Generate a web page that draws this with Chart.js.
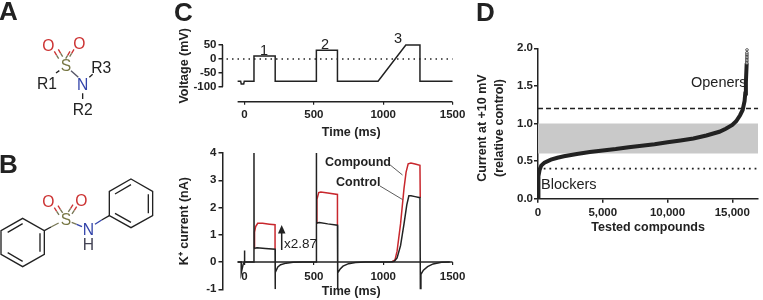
<!DOCTYPE html>
<html>
<head>
<meta charset="utf-8">
<title>Sulfonamide screen</title>
<script src="https://cdn.jsdelivr.net/npm/chart.js@4"></script>
<style>
  body { margin: 0; background: #fff; }
  #page { position: relative; width: 763px; height: 300px; overflow: hidden; }
  canvas, svg { position: absolute; }
  svg { left: 0; top: 0; pointer-events: none; font-family: "Liberation Sans", Arial, sans-serif; }
  .bond { stroke-width: 4; fill: none; }
  .chem { font-size: 47px; text-anchor: middle; dominant-baseline: central; }
  .letter { font-size: 26px; font-weight: bold; fill: #222; }
  .note { font-size: 14.5px; fill: #222; }
  .bold { font-size: 12.5px; font-weight: bold; fill: #222; }
</style>
</head>
<body>
<div id="page">
  <canvas id="voltageChart" width="303" height="120" style="left:177px;top:20px"></canvas>
  <canvas id="currentChart" width="303" height="160" style="left:177px;top:140px"></canvas>
  <canvas id="screenChart" width="263" height="205" style="left:500px;top:30px"></canvas>

  <svg width="763" height="300">
    <text class="letter" x="-1" y="20">A</text>
    <text class="letter" x="-1" y="173">B</text>
    <text class="letter" x="174" y="21">C</text>
    <text class="letter" x="476" y="21">D</text>

    <g transform="scale(0.3333)">
      <!-- structure A -->
      <path class="bond" stroke="#c33" d="M163 154l7 12M175 148l7 12M222 148l-7 12M210 154l-7 12"/>
      <path class="bond" stroke="#775" d="M170 166l6 10M182 160l6 10M215 160l-6 10M203 166l-6 10"/>
      <path class="bond" stroke="#222" d="M168 219l10-7M268 232l10-9M248 280v17"/>
      <path class="bond" stroke="#556" d="M213 212l22 20"/>
      <text class="chem" x="145" y="138" fill="#c33">O</text>
      <text class="chem" x="238" y="131" fill="#c33">O</text>
      <text class="chem" x="198" y="197" fill="#774">S</text>
      <text class="chem" x="248" y="253" fill="#34a">N</text>
      <text class="chem" x="141" y="250" fill="#222">R1</text>
      <text class="chem" x="304" y="202" fill="#222">R3</text>
      <text class="chem" x="248" y="330" fill="#222">R2</text>
      <!-- structure B -->
      <path class="bond" stroke="#222" d="M68 655L133 692V763L68 800L3 763V692ZM23 697L68 671M120 700V755M23 758L68 784"/>
      <path class="bond" stroke="#222" d="M393 537L458 574V647L393 683L328 647V574ZM345 582L393 554M445 583V640M345 640L393 667"/>
      <path class="bond" stroke="#222" d="M133 692L153 681"/>
      <path class="bond" stroke="#775" d="M153 681L176 669M215 667L230 673"/>
      <path class="bond" stroke="#34a" d="M230 673L246 680M285 673L305 660"/>
      <path class="bond" stroke="#222" d="M305 660L328 647"/>
      <path class="bond" stroke="#c33" d="M163 623l7 11M174 617l7 11M230 620l-7 11M219 614l-7 11"/>
      <path class="bond" stroke="#775" d="M170 634l7 11M181 628l7 11M223 631l-7 11M212 625l-7 11"/>
      <text class="chem" x="145" y="606" fill="#c33">O</text>
      <text class="chem" x="244" y="601" fill="#c33">O</text>
      <text class="chem" x="198" y="658" fill="#774">S</text>
      <text class="chem" x="265" y="688" fill="#34a">N</text>
      <text class="chem" x="265" y="735" fill="#445">H</text>
    </g>

    <!-- panel C labels -->
    <text class="note" x="264" y="55" text-anchor="middle">1</text>
    <text class="note" x="325" y="49" text-anchor="middle">2</text>
    <text class="note" x="398" y="43" text-anchor="middle">3</text>
    <text class="bold" x="325" y="166">Compound</text>
    <text class="bold" x="336" y="186">Control</text>
    <path d="M389 164L402.5 175M380 186L402.5 199.5" stroke="#333" stroke-width="0.8" fill="none"/>
    <path d="M281.7 250V232" stroke="#222" stroke-width="1.5"/>
    <path d="M281.7 225L285.5 233.5H278Z" fill="#222"/>
    <text x="284" y="248" font-size="13.5" fill="#222">x2.87</text>

    <!-- panel D labels -->
    <text class="note" x="691" y="87">Openers</text>
    <text class="note" x="541" y="189">Blockers</text>
    <text class="bold" transform="translate(486,128) rotate(-90)" text-anchor="middle">Current at +10 mV</text>
    <text class="bold" transform="translate(503,128) rotate(-90)" text-anchor="middle">(relative control)</text>
  </svg>
</div>

<script>
var timeTicks = [0, 500, 1000, 1500];

// voltage protocol
var voltageTicks = [50, 0, -50, -100];
var voltageTimes = [-50, -28, -24, -6, -2, 68, 68, 221, 221, 518, 518, 670, 670, 963, 1163, 1265, 1265, 1500];
var voltageValues = [-80, -80, -90, -90, -80, -80, 10, 10, -80, -80, 31, 31, -80, -80, 50, 50, -80, -80];
var zeroLineTimes = [-130, 1500];
var zeroLineValues = [0, 0];

// current traces
var currentTicks = [4, 3, 2, 1, 0, -1];
var controlTimes = [-50, -24, -24, -10, -2, 0, 0, 1, 68, 68, 69, 90, 150, 220, 221, 222, 240, 260, 300, 350, 420, 518, 518, 519, 540, 600, 670, 671, 673, 690, 710, 750, 800, 870, 1050, 1080, 1100, 1125, 1150, 1170, 1185, 1200, 1230, 1265, 1268, 1272, 1290, 1320, 1360, 1420, 1480];
var controlValues = [0, 0, -0.4, -0.08, 0, 0, 0.42, 0, 0, 4.2, 0.5, 0.52, 0.5, 0.47, -1, -0.38, -0.18, -0.1, -0.04, -0.01, 0, 0, 4.2, 1.43, 1.45, 1.4, 1.35, -1, -0.4, -0.25, -0.15, -0.06, -0.02, 0, 0, 0.03, 0.15, 0.6, 1.4, 2.1, 2.43, 2.43, 2.4, 2.36, -1, -0.45, -0.3, -0.17, -0.07, -0.01, 0];
var compoundTimes = [69, 72, 80, 95, 130, 180, 220, 220, 220.5, 519, 522, 535, 550, 600, 670, 670, 670.5, 1060, 1085, 1100, 1125, 1150, 1165, 1180, 1200, 1230, 1265, 1267];
var compoundValues = [0.5, 1.1, 1.3, 1.42, 1.42, 1.39, 1.37, 0.47, null, 1.43, 2.3, 2.55, 2.57, 2.53, 2.48, 1.35, null, 0, 0.08, 0.4, 1.4, 2.7, 3.3, 3.6, 3.63, 3.6, 3.55, 2.36];

// screen, compounds ranked by current
var screenTicksX = [0, 5000, 10000, 15000];
var screenTicksY = [0, 0.5, 1, 1.5, 2];
var rankValues = [0, 10, 30, 60, 120, 250, 500, 1000, 1500, 2000, 3000, 4000, 5000, 6000, 7000, 8000, 9000, 10000, 11000, 12000, 13000, 14000, 14500, 15000, 15300, 15600, 15800, 15950, 16000, 16050, 16110];
var relativeCurrent = [0, 0.1, 0.2, 0.3, 0.38, 0.44, 0.48, 0.52, 0.545, 0.565, 0.595, 0.62, 0.64, 0.66, 0.685, 0.705, 0.725, 0.75, 0.775, 0.8, 0.84, 0.89, 0.93, 0.98, 1.03, 1.11, 1.18, 1.3, 1.4, 1.55, 1.8];
var topRanks = [16120, 16120, 16125, 16125, 16130, 16130, 16130, 16130, 16135];
var topCurrents = [1.8, 1.82, 1.84, 1.86, 1.88, 1.9, 1.92, 1.94, 1.98];
var limitRanks = [0, 17000];
var bandTop = [1, 1];
var bandBottom = 0.6;
var openerLimit = [1.2, 1.2];
var blockerLimit = [0.4, 0.4];

var ink = '#222';
Chart.defaults.font.family = '"Liberation Sans", Arial, sans-serif';
Chart.defaults.font.size = 11.5;
Chart.defaults.font.weight = 'bold';
Chart.defaults.color = ink;
Chart.defaults.animation = false;
Chart.defaults.responsive = false;
Chart.defaults.devicePixelRatio = 1;
Chart.defaults.plugins.legend.display = false;
Chart.defaults.plugins.tooltip.enabled = false;

function pts(xs, ys) {
  return xs.map(function (x, i) { return { x: x, y: ys[i] }; });
}

function fixTicks(values) {
  return function (scale) {
    scale.ticks = values.map(function (v) { return { value: v }; });
  };
}

function plainLabel(v) {
  return String(v);
}

function trace(xs, ys, color, width) {
  return { data: pts(xs, ys), borderColor: color, borderWidth: width, pointRadius: 0, tension: 0, fill: false };
}

// the axes of panel C stand off the plot, so their lines are drawn here
var offsetAxes = {
  id: 'offsetAxes',
  afterDraw: function (chart, args, opts) {
    var c = chart.ctx, sx = chart.scales.x, sy = chart.scales.y;
    c.save();
    c.strokeStyle = ink;
    c.lineWidth = 1.5;
    c.beginPath();
    var yAt = opts.xAt === undefined ? chart.chartArea.bottom : sy.getPixelForValue(opts.xAt);
    c.moveTo(sx.getPixelForValue(opts.xFrom), yAt);
    c.lineTo(sx.getPixelForValue(opts.xTo), yAt);
    if (opts.yFrom !== undefined) {
      c.moveTo(chart.chartArea.left, sy.getPixelForValue(opts.yFrom));
      c.lineTo(chart.chartArea.left, sy.getPixelForValue(opts.yTo));
    }
    c.stroke();
    c.restore();
  }
};

var dotted = trace(zeroLineTimes, zeroLineValues, ink, 1.5);
dotted.borderDash = [1.5, 4];

new Chart(document.getElementById('voltageChart'), {
  type: 'line',
  data: { datasets: [trace(voltageTimes, voltageValues, ink, 1.5), dotted] },
  plugins: [offsetAxes],
  options: {
    layout: { padding: { top: 10 } },
    plugins: { offsetAxes: { xFrom: -50, xTo: 1500, yFrom: -100, yTo: 50 } },
    scales: {
      x: {
        type: 'linear', min: -159, max: 1698,
        afterBuildTicks: fixTicks(timeTicks),
        afterFit: function (s) { s.height = 38.3; },
        ticks: { maxRotation: 0, padding: 3, autoSkip: false, callback: plainLabel },
        grid: { drawOnChartArea: false, tickLength: 3, color: ink, lineWidth: 1.2 },
        border: { display: false },
        title: { display: true, text: 'Time (ms)', font: { size: 12.5, weight: 'bold' }, padding: 0 }
      },
      y: {
        min: -154, max: 104,
        afterBuildTicks: fixTicks(voltageTicks),
        afterFit: function (s) { s.width = 45.5; },
        ticks: { padding: 2, autoSkip: false },
        grid: { drawOnChartArea: false, tickLength: 4, color: ink, lineWidth: 1.5 },
        border: { display: false },
        title: { display: true, text: 'Voltage (mV)', font: { size: 12.5, weight: 'bold' }, padding: 0 }
      }
    }
  }
});

new Chart(document.getElementById('currentChart'), {
  type: 'line',
  data: { datasets: [trace(controlTimes, controlValues, ink, 1.5), trace(compoundTimes, compoundValues, '#c8272d', 1.5)] },
  plugins: [offsetAxes],
  options: {
    layout: { padding: { top: 13, bottom: 10.7 } },
    plugins: { offsetAxes: { xFrom: -50, xTo: 1500, xAt: 0 } },
    scales: {
      x: {
        type: 'linear', min: -159, max: 1698, position: { y: 0 },
        afterBuildTicks: fixTicks(timeTicks),
        afterFit: function (s) { s.height = 37; },
        ticks: { maxRotation: 0, padding: 5, autoSkip: false, callback: plainLabel },
        grid: { drawOnChartArea: false, tickLength: 3, color: ink, lineWidth: 1.2 },
        border: { display: false },
        title: { display: true, text: 'Time (ms)', font: { size: 12.5, weight: 'bold' }, padding: 0 }
      },
      y: {
        min: -1, max: 4,
        afterBuildTicks: fixTicks(currentTicks),
        afterFit: function (s) { s.width = 45.5; },
        ticks: { padding: 2, autoSkip: false },
        grid: { drawOnChartArea: false, tickLength: 4, color: ink, lineWidth: 1.5 },
        border: { color: ink, width: 1.5 },
        title: { display: true, text: 'K\u207A current (nA)', font: { size: 12.5, weight: 'bold' }, padding: 0 }
      }
    }
  }
});

var band = trace(limitRanks, bandTop, 'rgba(0,0,0,0)', 0);
band.fill = { value: bandBottom };
band.backgroundColor = '#c9c9c9';
var opener = trace(limitRanks, openerLimit, ink, 1.5);
opener.borderDash = [5, 3];
var blocker = trace(limitRanks, blockerLimit, ink, 1.8);
blocker.borderDash = [1.8, 3.9];
var curve = trace(rankValues, relativeCurrent, ink, 4);
var topPoints = {
  data: pts(topRanks, topCurrents), showLine: false,
  pointRadius: 1.3, pointBorderWidth: 0.8, pointBorderColor: ink, pointBackgroundColor: '#fff'
};

new Chart(document.getElementById('screenChart'), {
  type: 'line',
  data: { datasets: [topPoints, curve, opener, blocker, band] },
  options: {
    layout: { padding: { top: 18.3, right: 1 } },
    scales: {
      x: {
        type: 'linear', min: 0, max: 17000,
        afterBuildTicks: fixTicks(screenTicksX),
        afterFit: function (s) { s.height = 36.3; },
        ticks: {
          maxRotation: 0, padding: 3, autoSkip: false,
          callback: function (v) { return v.toLocaleString('en-US'); }
        },
        grid: { drawOnChartArea: false, tickLength: 4, color: ink, lineWidth: 1.5 },
        border: { color: ink, width: 1.5 },
        title: { display: true, text: 'Tested compounds', font: { size: 12.5, weight: 'bold' }, padding: 0 }
      },
      y: {
        min: 0, max: 2,
        afterBuildTicks: fixTicks(screenTicksY),
        afterFit: function (s) { s.width = 38; },
        ticks: {
          padding: 1, autoSkip: false,
          callback: function (v) { return v.toFixed(1); }
        },
        grid: { drawOnChartArea: false, tickLength: 4, color: ink, lineWidth: 1.5 },
        border: { color: ink, width: 1.5 }
      }
    }
  }
});
</script>
</body>
</html>
